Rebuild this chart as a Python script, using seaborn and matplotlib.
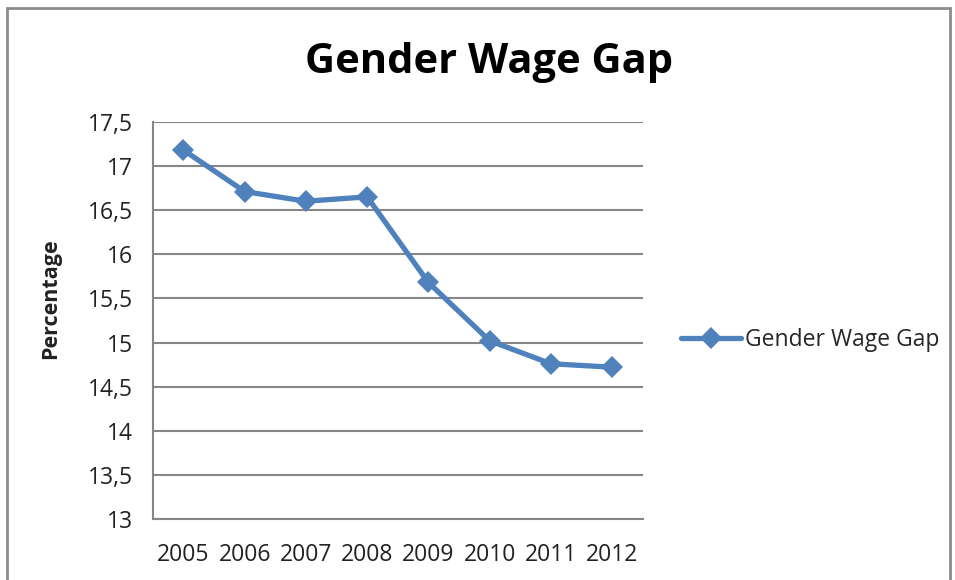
import matplotlib
matplotlib.use("Agg")
import matplotlib.pyplot as plt
import seaborn as sns
import pandas as pd
from matplotlib.patches import Rectangle

years = [2005, 2006, 2007, 2008, 2009, 2010, 2011, 2012]
gap = [17.18, 16.71, 16.60, 16.65, 15.68, 15.02, 14.76, 14.72]
yticks = [13, 13.5, 14, 14.5, 15, 15.5, 16, 16.5, 17, 17.5]
ytick_labels = ["13", "13,5", "14", "14,5", "15", "15,5", "16", "16,5", "17", "17,5"]
series_name = "Gender Wage Gap"

sns.set_theme(style="white")
plt.rcParams["font.family"] = ["Open Sans", "DejaVu Sans"]

df = pd.DataFrame({"Year": years, "Gap": gap, "Series": series_name})

fig = plt.figure(figsize=(9.55, 5.8), dpi=100)
ax = fig.add_axes([0.160, 0.105, 0.513, 0.685])

blue = "#4F81BD"
grid_c = "#868686"

sns.lineplot(data=df, x="Year", y="Gap", hue="Series", palette=[blue],
             marker="D", markersize=11, linewidth=3.8, markeredgewidth=0,
             ax=ax, legend=True)

ax.set_xlim(2004.5, 2012.5)
ax.set_ylim(13, 17.5)
ax.set_yticks(yticks)
ax.set_yticklabels(ytick_labels)
ax.set_xticks(years)
ax.set_xticklabels([str(y) for y in years])
ax.tick_params(axis="both", length=0, labelsize=16.5, colors="#222222")
ax.tick_params(axis="y", pad=14)
ax.tick_params(axis="x", pad=17)

ax.yaxis.grid(True, color=grid_c, linewidth=1.5)
ax.set_axisbelow(True)
for s in ["top", "right"]:
    ax.spines[s].set_visible(False)
for s in ["left", "bottom"]:
    ax.spines[s].set_color(grid_c)
    ax.spines[s].set_linewidth(1.5)

ax.set_xlabel("")
ax.set_ylabel("Percentage", fontsize=15.5, fontweight="bold", color="#222222")
ax.yaxis.set_label_coords(-0.188, 0.555)

fig.text(0.512, 0.893, "Gender Wage Gap", ha="center", va="center",
         fontsize=30, fontweight="bold", color="black")

leg = ax.legend(loc="center left", bbox_to_anchor=(1.06, 0.45), frameon=False,
                fontsize=16.5, handlelength=2.6, handletextpad=0.2, borderaxespad=0)
for h in leg.legend_handles:
    h.set_linewidth(3.8)
    h.set_markersize(11)

fig.patches.append(Rectangle((0.007, -0.01), 0.988, 0.997, transform=fig.transFigure,
                             fill=False, edgecolor="#8c8c8c", linewidth=2))

fig.savefig("out.png", dpi=100)
